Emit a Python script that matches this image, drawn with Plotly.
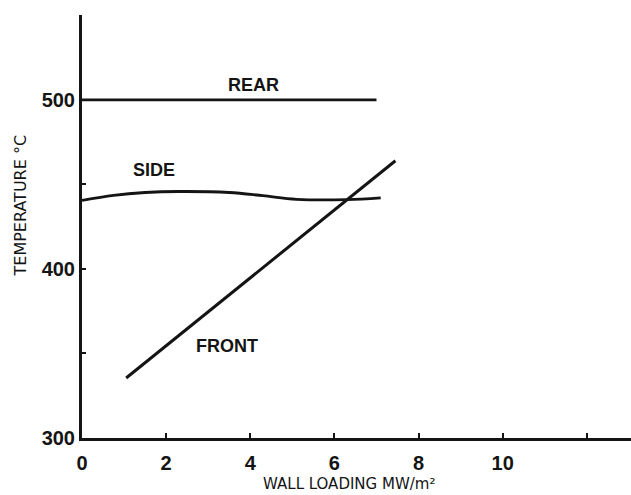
import plotly.graph_objects as go

# Data
rear_x = [0.0, 7.0]
rear_t = [500.0, 500.0]

side_x = [0.0, 0.75, 1.5, 2.3, 3.5, 4.3, 5.1, 6.3, 7.1]
side_t = [440.5, 443.5, 445.2, 445.8, 445.2, 443.3, 441.2, 441.0, 442.0]

front_x = [1.05, 7.45]
front_t = [335.5, 464.0]

x_tickvals = [0, 2, 4, 6, 8, 10, 12]
x_ticktext = ["0", "2", "4", "6", "8", "10", ""]
y_tickvals = [300, 350, 400, 450, 500]
y_ticktext = ["300", "", "400", "", "500"]

labels = [("REAR", 4.07, 509.0), ("SIDE", 1.71, 458.6), ("FRONT", 3.44, 354.2)]

ink = "#141414"
line_style = dict(color=ink, width=2.8)

fig = go.Figure()
fig.add_trace(go.Scatter(x=rear_x, y=rear_t, mode="lines", line=line_style, showlegend=False))
fig.add_trace(go.Scatter(x=side_x, y=side_t, mode="lines",
                         line=dict(color=ink, width=2.8, shape="spline", smoothing=1.0),
                         showlegend=False))
fig.add_trace(go.Scatter(x=front_x, y=front_t, mode="lines", line=dict(color=ink, width=3),
                         showlegend=False))

for text, lx, ly in labels:
    fig.add_annotation(x=lx, y=ly, text=text, showarrow=False,
                       font=dict(family="Liberation Sans, Arial, sans-serif", size=18,
                                 color=ink, weight="bold"))

# Axis titles
fig.add_annotation(xref="paper", yref="paper", x=(349 - 82) / 549, y=-(484 - 438) / 423,
                   text="WALL LOADING MW/m²", showarrow=False,
                   font=dict(family="DejaVu Sans, sans-serif", size=15, color=ink),
                   xanchor="center", yanchor="middle")
fig.add_annotation(xref="paper", yref="paper", x=-(82 - 20) / 549, y=(438 - 205.5) / 423,
                   text="TEMPERATURE °C", showarrow=False, textangle=-90,
                   font=dict(family="DejaVu Sans, sans-serif", size=16, color=ink),
                   xanchor="center", yanchor="middle")

tick_font = dict(family="Liberation Sans, Arial, sans-serif", size=20, color=ink, weight="bold")

fig.update_layout(
    width=631, height=495,
    margin=dict(l=82, r=0, t=15, b=57),
    paper_bgcolor="white", plot_bgcolor="white",
    xaxis=dict(range=[0, 13.05], showgrid=False, zeroline=False,
               showline=True, linewidth=3, linecolor=ink,
               ticks="inside", ticklen=5, tickwidth=2, tickcolor=ink,
               tickvals=x_tickvals, ticktext=x_ticktext,
               tickfont=tick_font, ticklabelstandoff=5),
    yaxis=dict(range=[300, 550.2], showgrid=False, zeroline=False,
               showline=True, linewidth=3, linecolor=ink,
               ticks="inside", ticklen=4, tickwidth=2, tickcolor=ink,
               tickvals=y_tickvals, ticktext=y_ticktext,
               tickfont=tick_font),
)

fig.write_html("out.html")
